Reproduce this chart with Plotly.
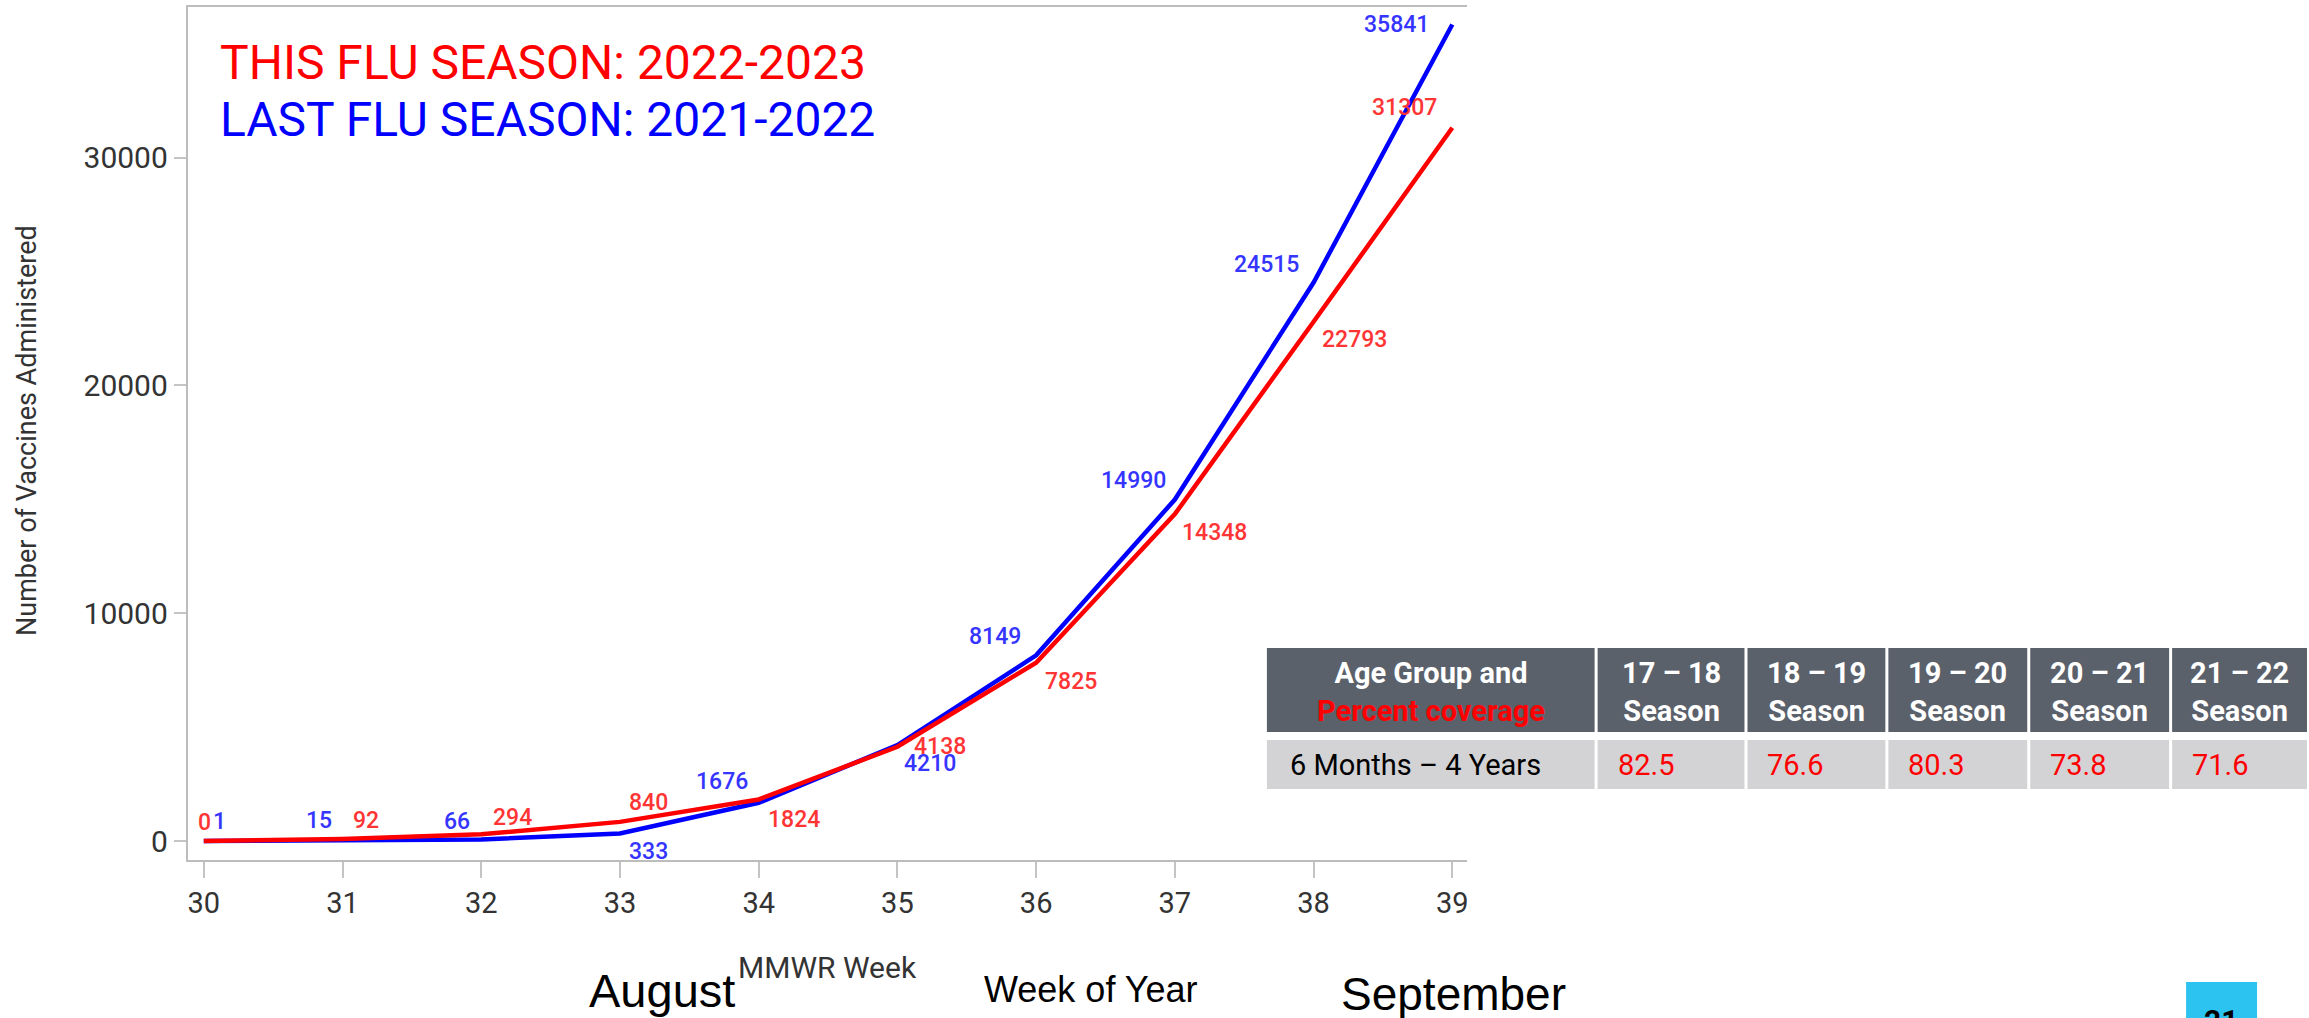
import plotly.graph_objects as go

# ---------------- data ----------------
weeks = [30, 31, 32, 33, 34, 35, 36, 37, 38, 39]
this_season = [0, 92, 294, 840, 1824, 4138, 7825, 14348, 22793, 31307]   # 2022-2023
last_season = [1, 15, 66, 333, 1676, 4210, 8149, 14990, 24515, 35841]    # 2021-2022
y_ticks = [0, 10000, 20000, 30000]

table_first_header = ["Age Group and", "Percent coverage"]
table_seasons = ["17 – 18", "18 – 19", "19 – 20", "20 – 21", "21 – 22"]
table_row_label = "6 Months – 4 Years"
table_coverage = [82.5, 76.6, 80.3, 73.8, 71.6]

# ---------------- style ----------------
W, H = 2309, 1018
RED, BLUE = "#ff0000", "#0000ff"
LRED, LBLUE = "#ff3535", "#3535ff"
FONT = "Roboto"

# label offsets (pixels) for each point label
red_dx = [1, 23, 31, 29, 35, 43, 35, 40, 41, -48]
red_dy = [19, 18, 17, 19, -20, 0, -19, -18, -18, 20]
blue_dx = [16, -24, -24, 29, -37, 33, -41, -41, -47, -56]
blue_dy = [19, 20, 18, -18, 21, -18, 19, 19, 18, 0]


def px(x):
    return x / W


def py(y):
    return 1 - y / H


fig = go.Figure()
fig.add_trace(go.Scatter(x=weeks, y=last_season, mode="lines",
                         line=dict(color=BLUE, width=4.5), name="2021-2022",
                         hoverinfo="skip"))
fig.add_trace(go.Scatter(x=weeks, y=this_season, mode="lines",
                         line=dict(color=RED, width=4.5), name="2022-2023",
                         hoverinfo="skip"))

ann = []
for i, w in enumerate(weeks):
    ann.append(dict(x=w, y=last_season[i], xref="x", yref="y", text=str(last_season[i]),
                    showarrow=False, xshift=blue_dx[i], yshift=blue_dy[i],
                    font=dict(family=FONT, size=23, color=LBLUE, weight=500)))
    ann.append(dict(x=w, y=this_season[i], xref="x", yref="y", text=str(this_season[i]),
                    showarrow=False, xshift=red_dx[i], yshift=red_dy[i],
                    font=dict(family=FONT, size=23, color=LRED, weight=500)))

# season legend texts
ann.append(dict(x=px(218), y=py(62), xref="paper", yref="paper", xanchor="left", yanchor="middle",
                text="THIS FLU SEASON: 2022-2023", showarrow=False,
                font=dict(family=FONT, size=48, color=RED)))
ann.append(dict(x=px(218), y=py(119), xref="paper", yref="paper", xanchor="left", yanchor="middle",
                text="LAST FLU SEASON: 2021-2022", showarrow=False,
                font=dict(family=FONT, size=48, color=BLUE)))

# axis titles
ann.append(dict(x=px(27), y=py(430), xref="paper", yref="paper", xanchor="center", yanchor="middle",
                text="Number of Vaccines Administered", textangle=-90, showarrow=False,
                font=dict(family=FONT, size=27, color="#333333")))
ann.append(dict(x=px(828), y=py(967), xref="paper", yref="paper", xanchor="center", yanchor="middle",
                text="MMWR Week", showarrow=False,
                font=dict(family=FONT, size=30, color="#333333")))

# month / week-of-year labels
ann.append(dict(x=px(663), y=py(990), xref="paper", yref="paper", xanchor="center", yanchor="middle",
                text="August", showarrow=False,
                font=dict(family="Liberation Sans", size=47, color="#000000")))
ann.append(dict(x=px(1092), y=py(989), xref="paper", yref="paper", xanchor="center", yanchor="middle",
                text="Week of Year", showarrow=False,
                font=dict(family="Liberation Sans", size=36, color="#000000")))
ann.append(dict(x=px(1455), y=py(994), xref="paper", yref="paper", xanchor="center", yanchor="middle",
                text="September", showarrow=False,
                font=dict(family="Liberation Sans", size=46, color="#000000")))

# ---------------- table ----------------
shapes = []
col_edges = [1268, 1596, 1746, 1887, 2029, 2171, 2309]
gap = 3
hdr_top, hdr_bot = 648, 732
row_top, row_bot = 740, 789
HDR_BG, ROW_BG = "#5b616b", "#d3d3d5"
for c in range(len(col_edges) - 1):
    x0 = col_edges[c] + (0 if c == 0 else gap)
    x1 = col_edges[c + 1]
    shapes.append(dict(type="rect", xref="paper", yref="paper", x0=px(x0), x1=px(x1),
                       y0=py(hdr_bot), y1=py(hdr_top), fillcolor=HDR_BG, line=dict(width=0),
                       layer="below"))
    shapes.append(dict(type="rect", xref="paper", yref="paper", x0=px(x0), x1=px(x1),
                       y0=py(row_bot), y1=py(row_top), fillcolor=ROW_BG, line=dict(width=0),
                       layer="below"))

hdr_mid = (hdr_top + hdr_bot) / 2 + 2
row_mid = (row_top + row_bot) / 2
ann.append(dict(x=px((col_edges[0] + col_edges[1]) / 2), y=py(hdr_mid), xref="paper", yref="paper",
                xanchor="center", yanchor="middle", showarrow=False,
                text="<b>" + table_first_header[0] + "</b><br><b><span style='color:#ff0000'>"
                     + table_first_header[1] + "</span></b>",
                font=dict(family=FONT, size=29, color="#ffffff")))
for c, s in enumerate(table_seasons):
    cx = (col_edges[c + 1] + gap + col_edges[c + 2]) / 2
    ann.append(dict(x=px(cx), y=py(hdr_mid), xref="paper", yref="paper",
                    xanchor="center", yanchor="middle", showarrow=False,
                    text="<b>" + s + "</b><br><b>Season</b>",
                    font=dict(family=FONT, size=29, color="#ffffff")))
    ann.append(dict(x=px(col_edges[c + 1] + gap + 18), y=py(row_mid), xref="paper", yref="paper",
                    xanchor="left", yanchor="middle", showarrow=False,
                    text=f"{table_coverage[c]:.1f}",
                    font=dict(family=FONT, size=29, color="#ff0000")))
ann.append(dict(x=px(1289), y=py(row_mid), xref="paper", yref="paper",
                xanchor="left", yanchor="middle", showarrow=False, text=table_row_label,
                font=dict(family=FONT, size=29, color="#000000")))

# page-number box
shapes.append(dict(type="rect", xref="paper", yref="paper", x0=px(2188), x1=px(2259),
                   y0=py(1030), y1=py(982), fillcolor="#2cc3f1", line=dict(width=0)))
ann.append(dict(x=px(2223), y=py(1020), xref="paper", yref="paper", xanchor="center", yanchor="middle",
                text="<b>21</b>", showarrow=False,
                font=dict(family=FONT, size=30, color="#000000")))

fig.update_layout(
    width=W, height=H,
    margin=dict(l=0, r=0, t=0, b=0, pad=0),
    paper_bgcolor="white", plot_bgcolor="white",
    showlegend=False,
    annotations=ann, shapes=shapes,
    xaxis=dict(domain=[px(188), px(1468)], range=[29.885, 39.104],
               tickmode="array", tickvals=weeks, ticktext=[str(w) for w in weeks],
               showgrid=False, zeroline=False,
               showline=True, mirror=True, linecolor="#bdbdbd", linewidth=2,
               ticks="outside", ticklen=16, tickwidth=2, tickcolor="#c4c4c4",
               tickfont=dict(family=FONT, size=29, color="#333333")),
    yaxis=dict(domain=[py(860), py(7)], range=[-834, 36610],
               tickmode="array", tickvals=y_ticks, ticktext=[str(v) for v in y_ticks],
               showgrid=False, zeroline=False,
               showline=True, mirror=False, linecolor="#bdbdbd", linewidth=2,
               ticks="outside", ticklen=12, tickwidth=2, tickcolor="#c4c4c4",
               tickfont=dict(family=FONT, size=30, color="#333333")),
)

fig.write_html(
    "out.html",
    config={"displayModeBar": False},
    post_script="document.body.style.margin='0';document.body.style.overflow='hidden';"
                "document.documentElement.style.overflow='hidden';",
)
